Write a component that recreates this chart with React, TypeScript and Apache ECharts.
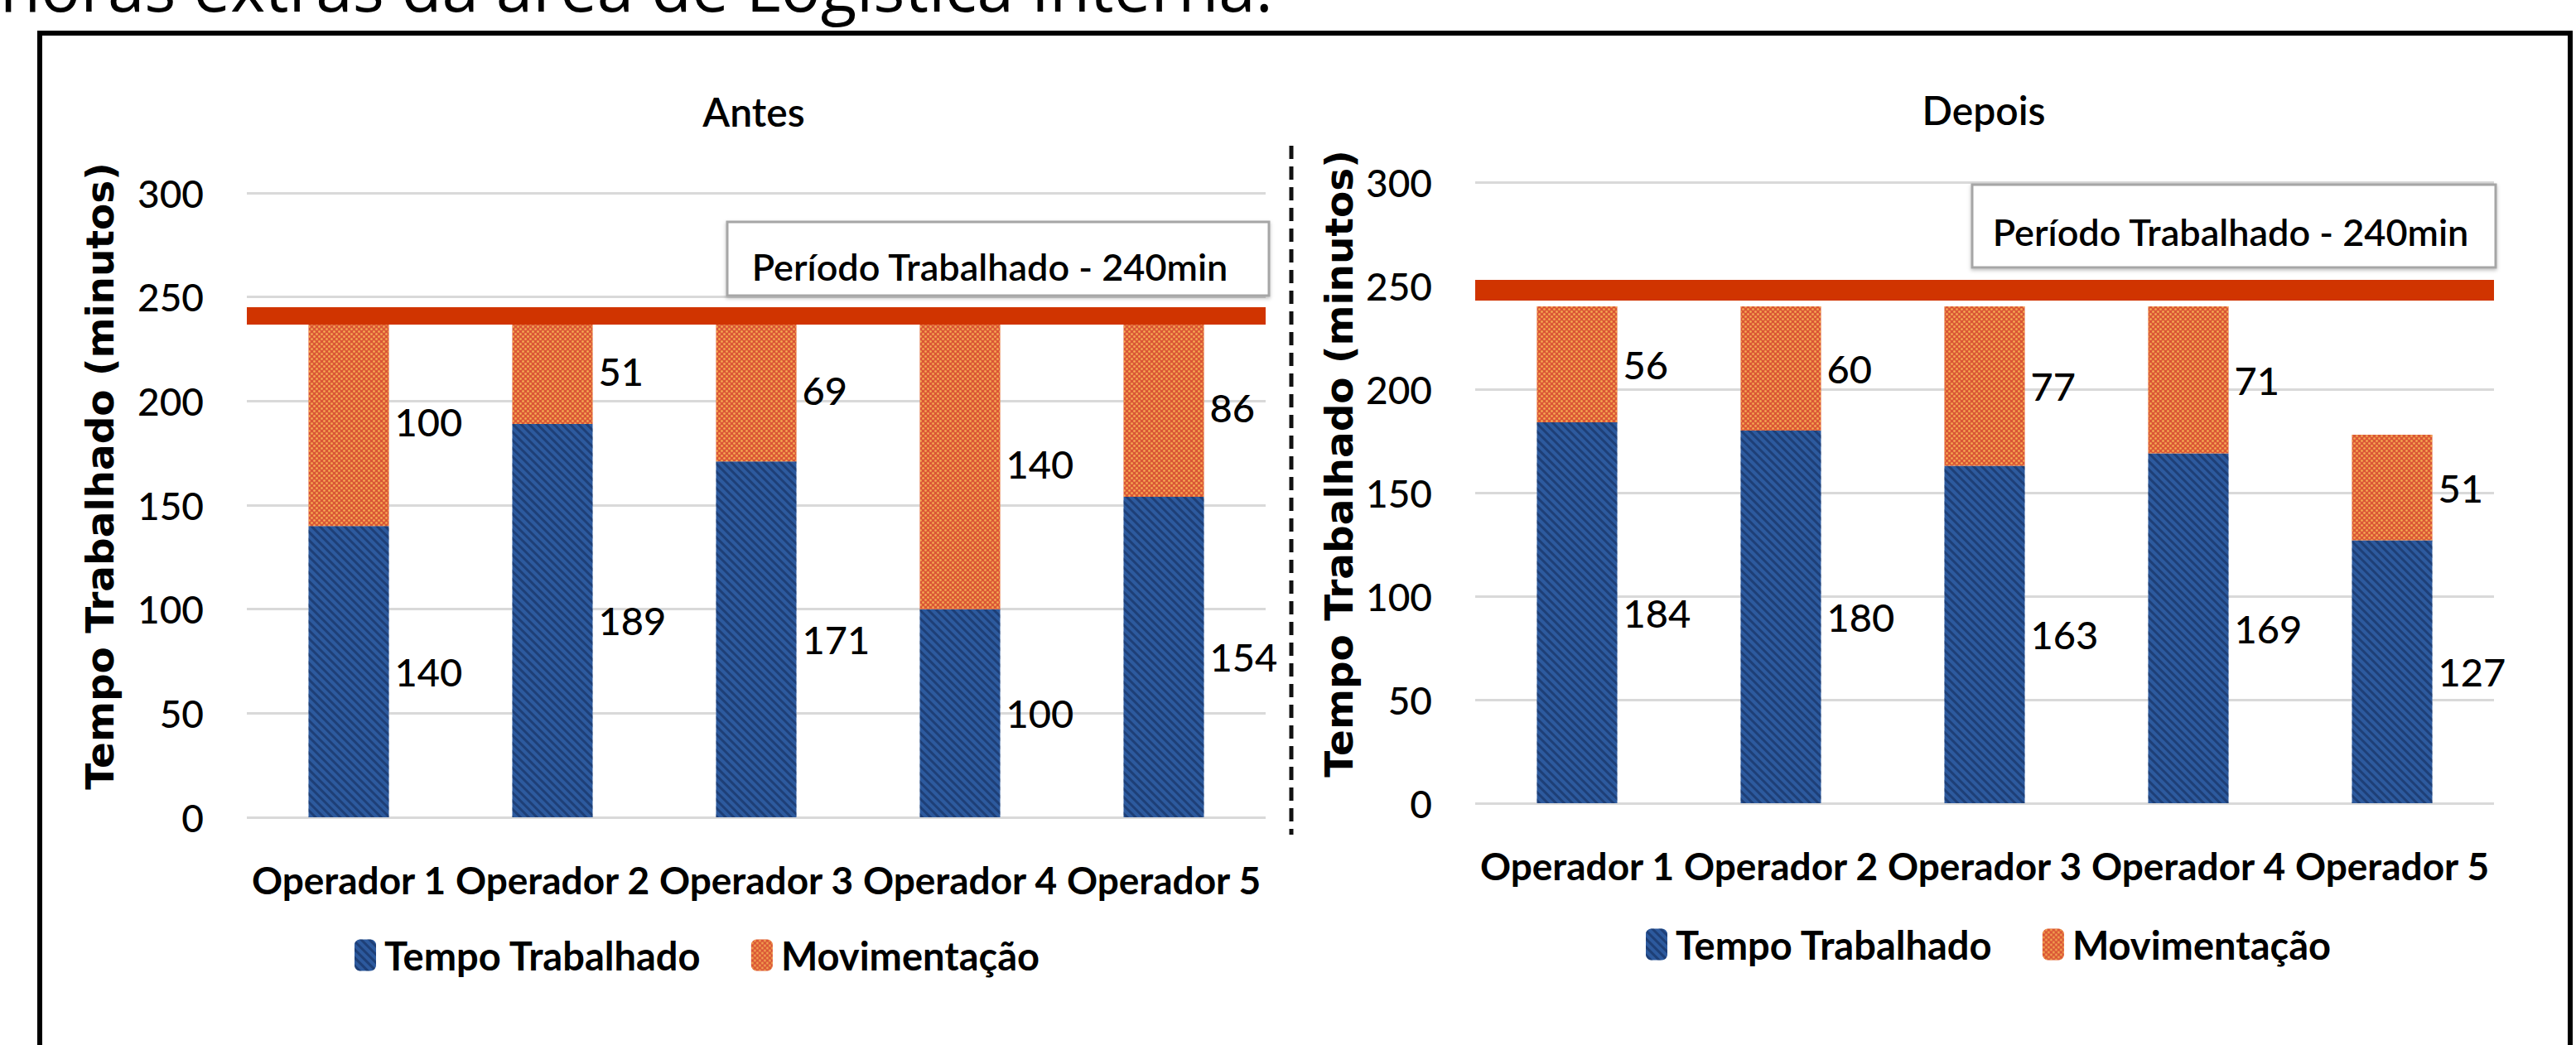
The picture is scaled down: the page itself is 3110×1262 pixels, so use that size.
import React, { useEffect, useRef } from 'react';
import * as echarts from 'echarts';

// ---------- data ----------
const categories = ['Operador 1', 'Operador 2', 'Operador 3', 'Operador 4', 'Operador 5'];
const antesTempo = [140, 189, 171, 100, 154];
const antesMov = [100, 51, 69, 140, 86];
const depoisTempo = [184, 180, 163, 169, 127];
const depoisMov = [56, 60, 77, 71, 51];
const yTicks = [0, 50, 100, 150, 200, 250, 300];
const limitAntes = 241;
const limitDepois = 248;
const seriesNames = ['Tempo Trabalhado', 'Movimentação'];
const panelTitles = ['Antes', 'Depois'];
const limitLabel = 'Período Trabalhado - 240min';
const axisTitle = 'Tempo Trabalhado (minutos)';
const headerText = 'horas extras da área de Logística Interna.';

const FONT = "Lato, 'Liberation Sans', sans-serif";
const WIDE = "'DejaVu Sans', Verdana, sans-serif";

const BLUE = '#2D5A9E';
const ORANGE = '#DA5636';
const RED = '#D03400';

const blueDecal = {
  symbol: 'rect',
  symbolSize: 1,
  dashArrayX: [1, 0],
  dashArrayY: [3, 4],
  rotation: Math.PI / 4,
  color: 'rgba(10, 30, 70, 0.45)',
};
const orangeDecal = {
  symbol: 'circle',
  symbolSize: 0.9,
  dashArrayX: [[3, 3], [0, 3, 3, 0]],
  dashArrayY: [3, 0],
  color: 'rgba(255, 200, 90, 0.75)',
};

export default function App() {
  const ref = useRef<HTMLDivElement>(null);

  useEffect(() => {
    if (!ref.current) return;
    const chart = echarts.init(ref.current, undefined, { renderer: 'svg' });

    const grids = [
      { left: 298, top: 233, width: 1230, height: 754 },
      { left: 1781, top: 220, width: 1230, height: 750 },
    ];
    const nameGaps = [154, 141];
    const limits = [limitAntes, limitDepois];
    const tempos = [antesTempo, depoisTempo];
    const movs = [antesMov, depoisMov];

    const labelStyle = {
      show: true,
      position: 'right',
      distance: 7,
      fontFamily: FONT,
      fontWeight: 500,
      fontSize: 47,
      color: '#000',
    };

    const series: any[] = [];
    [0, 1].forEach((i) => {
      series.push({
        type: 'bar',
        name: seriesNames[0],
        data: tempos[i],
        xAxisIndex: i,
        yAxisIndex: i,
        stack: 'stack' + i,
        barWidth: 97,
        itemStyle: { color: BLUE, decal: blueDecal },
        label: labelStyle,
      });
      series.push({
        type: 'bar',
        name: seriesNames[1],
        data: movs[i],
        xAxisIndex: i,
        yAxisIndex: i,
        stack: 'stack' + i,
        barWidth: 97,
        itemStyle: { color: ORANGE, decal: orangeDecal },
        label: labelStyle,
        markLine: {
          silent: true,
          symbol: ['none', 'none'],
          label: { show: false },
          lineStyle: { color: RED, width: i === 0 ? 21 : 25, type: 'solid' },
          data: [{ yAxis: limits[i] }],
        },
      });
    });

    const legendText = {
      fontFamily: FONT,
      fontWeight: 'bold',
      fontSize: 47,
      color: '#000',
      padding: [0, 0, 0, 5],
    };

    const titleStyle = { fontFamily: FONT, fontWeight: 600, fontSize: 48, color: '#000' };

    const option: any = {
      animation: false,
      backgroundColor: '#fff',
      title: [
        { text: panelTitles[0], left: 905, top: 105, textAlign: 'center', textStyle: titleStyle },
        { text: panelTitles[1], left: 2390, top: 103, textAlign: 'center', textStyle: titleStyle },
      ],
      legend: [
        {
          data: seriesNames,
          left: 428,
          top: 1130,
          padding: 0,
          itemWidth: 26,
          itemHeight: 38,
          itemGap: 60,
          selectedMode: false,
          textStyle: legendText,
        },
        {
          data: seriesNames,
          left: 1987,
          top: 1117,
          padding: 0,
          itemWidth: 26,
          itemHeight: 38,
          itemGap: 60,
          selectedMode: false,
          textStyle: legendText,
        },
      ],
      grid: grids,
      xAxis: [0, 1].map((i) => ({
        type: 'category',
        gridIndex: i,
        data: categories,
        axisLine: { show: false },
        axisTick: { show: false },
        axisLabel: {
          interval: 0,
          fontFamily: FONT,
          fontWeight: 'bold',
          fontSize: 46,
          color: '#000',
          margin: 52,
        },
      })),
      yAxis: [0, 1].map((i) => ({
        type: 'value',
        gridIndex: i,
        min: yTicks[0],
        max: yTicks[yTicks.length - 1],
        interval: yTicks[1] - yTicks[0],
        name: axisTitle,
        nameLocation: 'middle',
        nameRotate: 90,
        nameGap: nameGaps[i],
        nameTextStyle: {
          fontFamily: WIDE,
          fontWeight: 'bold',
          fontSize: 47,
          color: '#000',
          padding: [0, 0, 0, 70],
        },
        axisLine: { show: false },
        axisTick: { show: false },
        axisLabel: { fontFamily: FONT, fontWeight: 500, fontSize: 46, color: '#000', margin: 52 },
        splitLine: { lineStyle: { color: '#D9D9D9', width: 3 } },
      })),
      series,
      graphic: [
        {
          type: 'text',
          x: 0,
          y: -18,
          z: 100,
          style: {
            text: headerText,
            fontFamily: "'Open Sans', sans-serif",
            fontSize: 80,
            fill: '#000',
            textAlign: 'left',
            textVerticalAlign: 'middle',
          },
        },
        {
          type: 'rect',
          z: 100,
          shape: { x: 48, y: 40, width: 3055, height: 1300 },
          style: { fill: 'none', stroke: '#000', lineWidth: 6 },
        },
        {
          type: 'line',
          z: 100,
          shape: { x1: 1559, y1: 176, x2: 1559, y2: 1008 },
          style: { stroke: '#111', lineWidth: 5, lineDash: [16, 9] },
        },
        {
          type: 'rect',
          z: 100,
          shape: { x: 878, y: 268, width: 654, height: 89 },
          style: {
            fill: '#fff',
            stroke: '#A6A6A6',
            lineWidth: 3,
            shadowBlur: 4,
            shadowOffsetY: 2,
            shadowColor: 'rgba(0,0,0,0.25)',
          },
        },
        {
          type: 'text',
          z: 101,
          x: 1195,
          y: 322,
          style: {
            text: limitLabel,
            fontFamily: FONT,
            fontWeight: 600,
            fontSize: 45,
            fill: '#000',
            textAlign: 'center',
            textVerticalAlign: 'middle',
          },
        },
        {
          type: 'rect',
          z: 100,
          shape: { x: 2381, y: 223, width: 632, height: 100 },
          style: {
            fill: '#fff',
            stroke: '#A6A6A6',
            lineWidth: 3,
            shadowBlur: 4,
            shadowOffsetY: 2,
            shadowColor: 'rgba(0,0,0,0.25)',
          },
        },
        {
          type: 'text',
          z: 101,
          x: 2693,
          y: 280,
          style: {
            text: limitLabel,
            fontFamily: FONT,
            fontWeight: 600,
            fontSize: 45,
            fill: '#000',
            textAlign: 'center',
            textVerticalAlign: 'middle',
          },
        },
      ],
    };

    chart.setOption(option);
    return () => chart.dispose();
  }, []);

  return (
    <div
      ref={ref}
      style={{ position: 'absolute', left: 0, top: 0, width: 3110, height: 1262, background: '#fff' }}
    />
  );
}
